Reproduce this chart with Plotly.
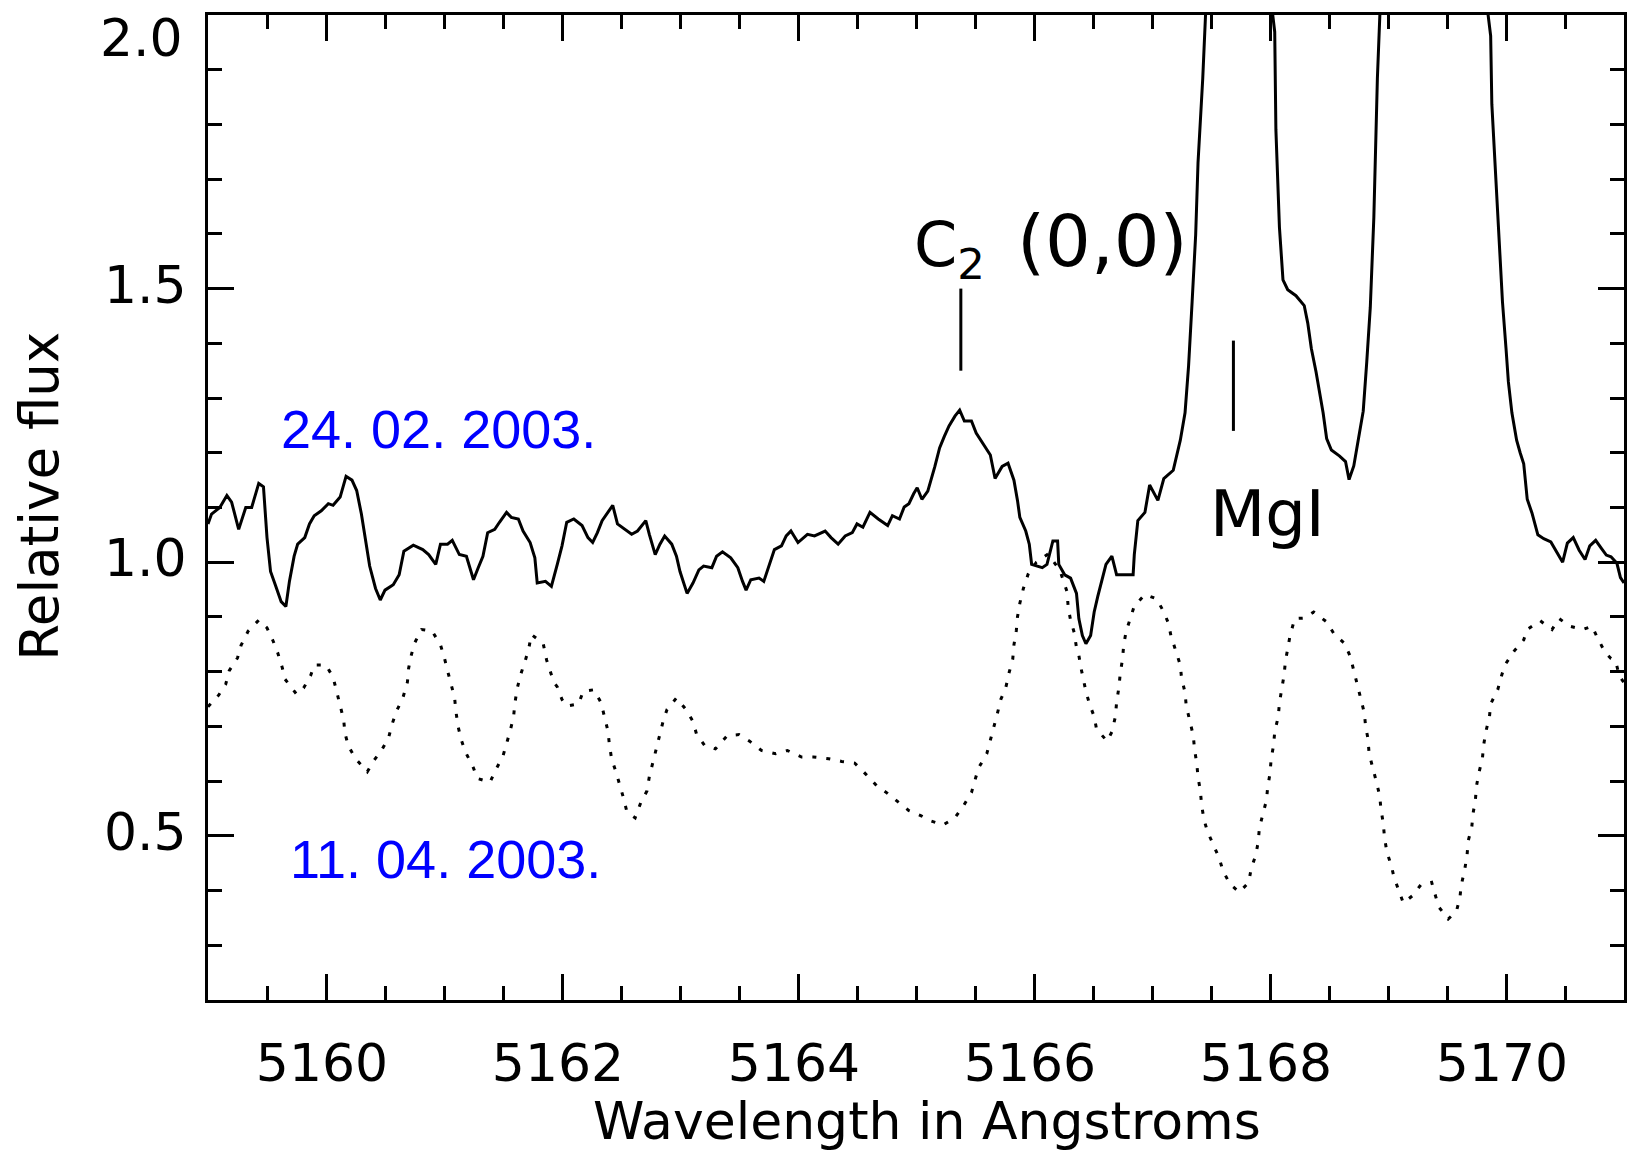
import plotly.graph_objects as go

# Spectrum observed 24.02.2003 (solid line): wavelength [A], relative flux
feb_wave = [
    5159.00, 5159.03, 5159.10, 5159.16, 5159.20, 5159.26, 5159.32, 5159.37, 5159.43, 5159.47,
    5159.50, 5159.53, 5159.57, 5159.62, 5159.66, 5159.69, 5159.73, 5159.76, 5159.82, 5159.86,
    5159.90, 5159.96, 5160.02, 5160.06, 5160.12, 5160.17, 5160.22, 5160.26, 5160.30, 5160.34,
    5160.37, 5160.42, 5160.46, 5160.50, 5160.57, 5160.62, 5160.66, 5160.74, 5160.82, 5160.87,
    5160.93, 5160.97, 5161.03, 5161.07, 5161.13, 5161.19, 5161.22, 5161.25, 5161.29, 5161.33,
    5161.37, 5161.43, 5161.47, 5161.53, 5161.57, 5161.63, 5161.67, 5161.73, 5161.77, 5161.79,
    5161.86, 5161.91, 5161.96, 5162.00, 5162.04, 5162.10, 5162.17, 5162.22, 5162.26, 5162.30,
    5162.34, 5162.40, 5162.43, 5162.47, 5162.53, 5162.59, 5162.64, 5162.71, 5162.74, 5162.79,
    5162.83, 5162.87, 5162.93, 5162.97, 5163.00, 5163.06, 5163.11, 5163.16, 5163.20, 5163.27,
    5163.31, 5163.36, 5163.43, 5163.49, 5163.53, 5163.56, 5163.60, 5163.67, 5163.71, 5163.76,
    5163.80, 5163.86, 5163.90, 5163.94, 5164.00, 5164.08, 5164.14, 5164.23, 5164.28, 5164.34,
    5164.40, 5164.46, 5164.50, 5164.55, 5164.61, 5164.68, 5164.76, 5164.80, 5164.86, 5164.90,
    5164.94, 5164.98, 5165.01, 5165.05, 5165.10, 5165.16, 5165.20, 5165.24, 5165.28, 5165.33,
    5165.37, 5165.41, 5165.47, 5165.51, 5165.57, 5165.63, 5165.67, 5165.73, 5165.78, 5165.83,
    5165.86, 5165.88, 5165.93, 5165.96, 5165.98, 5166.07, 5166.11, 5166.16, 5166.20, 5166.21,
    5166.26, 5166.31, 5166.36, 5166.38, 5166.41, 5166.44, 5166.48, 5166.51, 5166.54, 5166.57,
    5166.61, 5166.66, 5166.70, 5166.77, 5166.84, 5166.85, 5166.88, 5166.94, 5166.98, 5167.05,
    5167.10, 5167.18, 5167.24, 5167.28, 5167.31, 5167.34, 5167.37, 5167.39, 5167.43, 5167.47,
    5167.70, 5167.98, 5168.04, 5168.05, 5168.08, 5168.11, 5168.15, 5168.22, 5168.29, 5168.32,
    5168.35, 5168.39, 5168.42, 5168.45, 5168.48, 5168.52, 5168.59, 5168.64, 5168.67, 5168.71,
    5168.75, 5168.79, 5168.82, 5168.85, 5168.88, 5168.91, 5168.94, 5169.30, 5169.82, 5169.87,
    5169.88, 5169.91, 5169.94, 5169.97, 5170.00, 5170.02, 5170.05, 5170.09, 5170.12, 5170.15,
    5170.18, 5170.22, 5170.27, 5170.32, 5170.38, 5170.44, 5170.48, 5170.52, 5170.57, 5170.62,
    5170.67, 5170.71, 5170.76, 5170.81, 5170.85, 5170.89, 5170.94, 5170.97, 5171.00,
]
feb_flux = [
    1.070, 1.088, 1.100, 1.122, 1.110, 1.060, 1.100, 1.100, 1.144, 1.138,
    1.045, 0.983, 0.959, 0.928, 0.919, 0.965, 1.011, 1.033, 1.045, 1.070,
    1.085, 1.094, 1.107, 1.104, 1.119, 1.157, 1.150, 1.131, 1.088, 1.033,
    0.993, 0.952, 0.931, 0.949, 0.959, 0.977, 1.020, 1.031, 1.023, 1.014,
    0.996, 1.033, 1.033, 1.040, 1.014, 1.011, 0.990, 0.968, 0.990, 1.011,
    1.054, 1.060, 1.073, 1.091, 1.082, 1.079, 1.057, 1.036, 1.008, 0.962,
    0.965, 0.956, 0.996, 1.030, 1.073, 1.079, 1.067, 1.045, 1.036, 1.054,
    1.076, 1.094, 1.104, 1.070, 1.060, 1.051, 1.057, 1.076, 1.051, 1.014,
    1.033, 1.048, 1.033, 1.011, 0.983, 0.943, 0.962, 0.986, 0.993, 0.990,
    1.011, 1.019, 1.008, 0.990, 0.965, 0.949, 0.968, 0.971, 0.965, 0.996,
    1.023, 1.030, 1.048, 1.057, 1.036, 1.051, 1.048, 1.057, 1.045, 1.033,
    1.048, 1.054, 1.070, 1.064, 1.091, 1.079, 1.067, 1.085, 1.079, 1.101,
    1.107, 1.125, 1.136, 1.115, 1.130, 1.175, 1.209, 1.230, 1.249, 1.267,
    1.278, 1.258, 1.258, 1.236, 1.215, 1.196, 1.153, 1.175, 1.181, 1.150,
    1.113, 1.082, 1.057, 1.033, 0.996, 0.990, 0.996, 1.039, 1.039, 0.996,
    0.977, 0.971, 0.943, 0.897, 0.866, 0.851, 0.866, 0.909, 0.937, 0.962,
    0.996, 1.011, 0.977, 0.977, 0.977, 1.014, 1.076, 1.091, 1.141, 1.113,
    1.153, 1.168, 1.223, 1.273, 1.359, 1.476, 1.598, 1.730, 1.884, 2.080,
    2.700, 2.080, 1.969, 1.790, 1.612, 1.516, 1.498, 1.487, 1.469, 1.437,
    1.391, 1.348, 1.312, 1.273, 1.226, 1.205, 1.194, 1.184, 1.151, 1.176,
    1.226, 1.276, 1.366, 1.466, 1.630, 1.884, 2.050, 2.900, 2.050, 1.962,
    1.837, 1.716, 1.591, 1.476, 1.391, 1.330, 1.273, 1.223, 1.200, 1.180,
    1.115, 1.090, 1.050, 1.043, 1.037, 1.015, 1.000, 1.035, 1.045, 1.022,
    1.005, 1.030, 1.040, 1.025, 1.013, 1.010, 0.998, 0.972, 0.962,
]

# Spectrum observed 11.04.2003 (dotted line)
apr_wave = [
    5159.00, 5159.09, 5159.15, 5159.18, 5159.25, 5159.28, 5159.34, 5159.43, 5159.50, 5159.55,
    5159.59, 5159.63, 5159.65, 5159.75, 5159.81, 5159.87, 5159.90, 5160.00, 5160.06, 5160.09,
    5160.12, 5160.15, 5160.16, 5160.19, 5160.25, 5160.35, 5160.40, 5160.47, 5160.53, 5160.56,
    5160.60, 5160.65, 5160.69, 5160.70, 5160.72, 5160.75, 5160.81, 5160.90, 5160.97, 5161.00,
    5161.03, 5161.06, 5161.09, 5161.10, 5161.12, 5161.15, 5161.18, 5161.25, 5161.28, 5161.39,
    5161.43, 5161.50, 5161.53, 5161.56, 5161.59, 5161.60, 5161.62, 5161.65, 5161.69, 5161.72,
    5161.74, 5161.84, 5161.87, 5161.90, 5161.93, 5161.96, 5162.00, 5162.04, 5162.14, 5162.18,
    5162.27, 5162.33, 5162.36, 5162.39, 5162.40, 5162.42, 5162.46, 5162.49, 5162.52, 5162.55,
    5162.62, 5162.67, 5162.72, 5162.74, 5162.77, 5162.80, 5162.83, 5162.86, 5162.89, 5162.97,
    5163.05, 5163.11, 5163.14, 5163.21, 5163.30, 5163.40, 5163.50, 5163.59, 5163.69, 5163.81,
    5163.91, 5164.03, 5164.13, 5164.26, 5164.37, 5164.48, 5164.56, 5164.67, 5164.75, 5164.83,
    5164.94, 5165.04, 5165.13, 5165.23, 5165.33, 5165.40, 5165.47, 5165.50, 5165.53, 5165.60,
    5165.63, 5165.66, 5165.69, 5165.72, 5165.76, 5165.79, 5165.82, 5165.83, 5165.85, 5165.86,
    5165.88, 5165.91, 5165.95, 5166.02, 5166.12, 5166.22, 5166.28, 5166.29, 5166.31, 5166.34,
    5166.36, 5166.38, 5166.40, 5166.44, 5166.47, 5166.51, 5166.53, 5166.62, 5166.66, 5166.69,
    5166.70, 5166.72, 5166.73, 5166.75, 5166.76, 5166.78, 5166.82, 5166.85, 5166.94, 5167.04,
    5167.10, 5167.14, 5167.16, 5167.20, 5167.24, 5167.25, 5167.28, 5167.29, 5167.32, 5167.35,
    5167.36, 5167.38, 5167.39, 5167.41, 5167.42, 5167.44, 5167.47, 5167.57, 5167.60, 5167.66,
    5167.74, 5167.82, 5167.84, 5167.88, 5167.90, 5167.91, 5167.94, 5167.97, 5167.98, 5168.00,
    5168.01, 5168.03, 5168.04, 5168.07, 5168.08, 5168.10, 5168.12, 5168.13, 5168.15, 5168.17,
    5168.21, 5168.29, 5168.37, 5168.48, 5168.54, 5168.63, 5168.68, 5168.71, 5168.74, 5168.77,
    5168.80, 5168.81, 5168.83, 5168.84, 5168.87, 5168.90, 5168.93, 5168.94, 5168.96, 5168.97,
    5168.99, 5169.03, 5169.05, 5169.09, 5169.13, 5169.21, 5169.28, 5169.37, 5169.40, 5169.43,
    5169.51, 5169.58, 5169.61, 5169.62, 5169.65, 5169.67, 5169.68, 5169.71, 5169.72, 5169.74,
    5169.75, 5169.77, 5169.80, 5169.81, 5169.83, 5169.86, 5169.87, 5169.93, 5169.96, 5169.99,
    5170.07, 5170.15, 5170.18, 5170.29, 5170.39, 5170.45, 5170.54, 5170.65, 5170.73, 5170.77,
    5170.84, 5170.89, 5170.93, 5170.96, 5171.00,
]
apr_flux = [
    0.736, 0.757, 0.777, 0.802, 0.825, 0.848, 0.874, 0.894, 0.880, 0.857,
    0.835, 0.807, 0.787, 0.759, 0.770, 0.793, 0.812, 0.812, 0.790, 0.762,
    0.736, 0.712, 0.688, 0.664, 0.641, 0.617, 0.636, 0.656, 0.679, 0.704,
    0.729, 0.751, 0.781, 0.806, 0.828, 0.852, 0.877, 0.874, 0.849, 0.828,
    0.802, 0.777, 0.752, 0.729, 0.699, 0.673, 0.654, 0.624, 0.605, 0.598,
    0.617, 0.646, 0.667, 0.691, 0.718, 0.741, 0.769, 0.795, 0.821, 0.844,
    0.868, 0.852, 0.821, 0.802, 0.781, 0.772, 0.749, 0.737, 0.741, 0.764,
    0.767, 0.744, 0.718, 0.691, 0.670, 0.641, 0.615, 0.594, 0.570, 0.544,
    0.533, 0.562, 0.582, 0.608, 0.633, 0.659, 0.687, 0.712, 0.731, 0.752,
    0.731, 0.709, 0.686, 0.665, 0.659, 0.683, 0.685, 0.673, 0.656, 0.650,
    0.656, 0.644, 0.644, 0.641, 0.636, 0.633, 0.616, 0.591, 0.579, 0.565,
    0.546, 0.537, 0.527, 0.520, 0.533, 0.554, 0.579, 0.602, 0.624, 0.650,
    0.673, 0.699, 0.724, 0.750, 0.770, 0.799, 0.823, 0.849, 0.875, 0.900,
    0.925, 0.952, 0.978, 1.000, 1.015, 0.985, 0.946, 0.917, 0.894, 0.872,
    0.844, 0.830, 0.805, 0.764, 0.741, 0.718, 0.695, 0.673, 0.690, 0.718,
    0.744, 0.772, 0.795, 0.823, 0.848, 0.873, 0.900, 0.920, 0.941, 0.933,
    0.909, 0.888, 0.866, 0.838, 0.812, 0.789, 0.762, 0.738, 0.712, 0.683,
    0.659, 0.631, 0.607, 0.582, 0.557, 0.530, 0.508, 0.459, 0.437, 0.412,
    0.397, 0.415, 0.440, 0.465, 0.489, 0.514, 0.540, 0.565, 0.588, 0.614,
    0.641, 0.665, 0.690, 0.718, 0.743, 0.770, 0.795, 0.818, 0.844, 0.866,
    0.897, 0.898, 0.909, 0.891, 0.870, 0.852, 0.828, 0.802, 0.777, 0.750,
    0.724, 0.700, 0.678, 0.650, 0.627, 0.600, 0.573, 0.549, 0.523, 0.498,
    0.471, 0.444, 0.425, 0.399, 0.377, 0.391, 0.411, 0.415, 0.394, 0.370,
    0.348, 0.362, 0.388, 0.409, 0.438, 0.465, 0.491, 0.516, 0.540, 0.564,
    0.591, 0.615, 0.641, 0.665, 0.691, 0.718, 0.741, 0.767, 0.791, 0.812,
    0.838, 0.858, 0.877, 0.893, 0.877, 0.897, 0.883, 0.877, 0.883, 0.864,
    0.835, 0.824, 0.819, 0.792, 0.780,
]

# Line identification markers
c2_mark_wave = [5165.38, 5165.38]
c2_mark_flux = [1.35, 1.50]
mgi_mark_wave = [5167.69, 5167.69]
mgi_mark_flux = [1.24, 1.405]

# Axis ticks
x_tick_vals = [5160, 5162, 5164, 5166, 5168, 5170]
x_tick_text = ["5160", "5162", "5164", "5166", "5168", "5170"]
y_tick_vals = [0.5, 1.0, 1.5, 2.0]
y_tick_text = ["0.5", "1.0", "1.5", "2.0"]

AX_FONT = "DejaVu Sans"
LBL_FONT = "Liberation Sans, Arial, sans-serif"
TICK_SIZE = 52

fig = go.Figure()

fig.add_trace(go.Scatter(
    x=feb_wave, y=feb_flux, mode="lines",
    line=dict(color="black", width=3),
    showlegend=False, hoverinfo="skip",
))
fig.add_trace(go.Scatter(
    x=apr_wave, y=apr_flux, mode="lines",
    line=dict(color="black", width=3, dash="4px,10px"),
    showlegend=False, hoverinfo="skip",
))
for mx, my in ((c2_mark_wave, c2_mark_flux), (mgi_mark_wave, mgi_mark_flux)):
    fig.add_trace(go.Scatter(
        x=mx, y=my, mode="lines",
        line=dict(color="black", width=3),
        showlegend=False, hoverinfo="skip",
    ))

axis_common = dict(
    showline=True, linewidth=3, linecolor="black", mirror="ticks",
    ticks="inside", tickwidth=3, tickcolor="black", ticklen=26,
    showgrid=False, zeroline=False,
    tickfont=dict(family=AX_FONT, size=TICK_SIZE, color="black"),
)

fig.update_xaxes(
    range=[5159, 5171], tickmode="array",
    tickvals=x_tick_vals, ticktext=x_tick_text,
    minor=dict(dtick=0.5, tick0=5159, ticks="inside", ticklen=14,
               tickwidth=3, tickcolor="black", showgrid=False),
    ticklabelstandoff=16, ticklabelshift=-4,
    **axis_common,
)

# the top label (2.0) sits flush below the frame corner, so it is placed
# as its own text further down; its tick coincides with the top frame line
fig.update_yaxes(
    range=[0.2, 2.0], tickmode="array",
    tickvals=y_tick_vals[:-1], ticktext=y_tick_text[:-1],
    minor=dict(dtick=0.1, tick0=0.2, ticks="inside", ticklen=14,
               tickwidth=3, tickcolor="black", showgrid=False),
    ticklabelstandoff=8, ticklabelshift=-4,
    **axis_common,
)

annotations = [
    dict(text=y_tick_text[-1], x=0, y=y_tick_vals[-1], xref="paper", yref="y",
         xanchor="right", yanchor="top", xshift=-23, yshift=9, showarrow=False,
         font=dict(family=AX_FONT, size=TICK_SIZE, color="black")),
    dict(text="24. 02. 2003.", x=5159.60, y=1.243, xref="x", yref="y",
         xanchor="left", yanchor="middle", showarrow=False,
         font=dict(family=LBL_FONT, size=54, color="#0000ff")),
    dict(text="11. 04. 2003.", x=5159.68, y=0.457, xref="x", yref="y",
         xanchor="left", yanchor="middle", showarrow=False,
         font=dict(family=LBL_FONT, size=54, color="#0000ff")),
    dict(text="C<sub>2</sub>\u00a0\u2009<span style=\"font-size:72px\">(0,0)</span>",
         x=5164.97, y=1.581, xref="x", yref="y",
         xanchor="left", yanchor="middle", showarrow=False,
         font=dict(family=AX_FONT, size=62, color="black")),
    dict(text="MgI", x=5167.98, y=1.088, xref="x", yref="y",
         xanchor="center", yanchor="middle", showarrow=False,
         font=dict(family=AX_FONT, size=64, color="black")),
    # axis titles
    dict(text="Wavelength in Angstroms", x=0.5075, y=0, xref="paper", yref="paper",
         xanchor="center", yanchor="top", yshift=-89, showarrow=False,
         font=dict(family=AX_FONT, size=52, color="black")),
    dict(text="Relative flux", x=0, y=0.511, xref="paper", yref="paper",
         xanchor="center", yanchor="middle", xshift=-168, textangle=-90,
         showarrow=False,
         font=dict(family=AX_FONT, size=53, color="black")),
]

fig.update_layout(
    width=1630, height=1155,
    margin=dict(l=208, r=3, t=15, b=155, pad=0),
    paper_bgcolor="white", plot_bgcolor="white",
    annotations=annotations,
    showlegend=False,
)

fig.write_html("out.html")
